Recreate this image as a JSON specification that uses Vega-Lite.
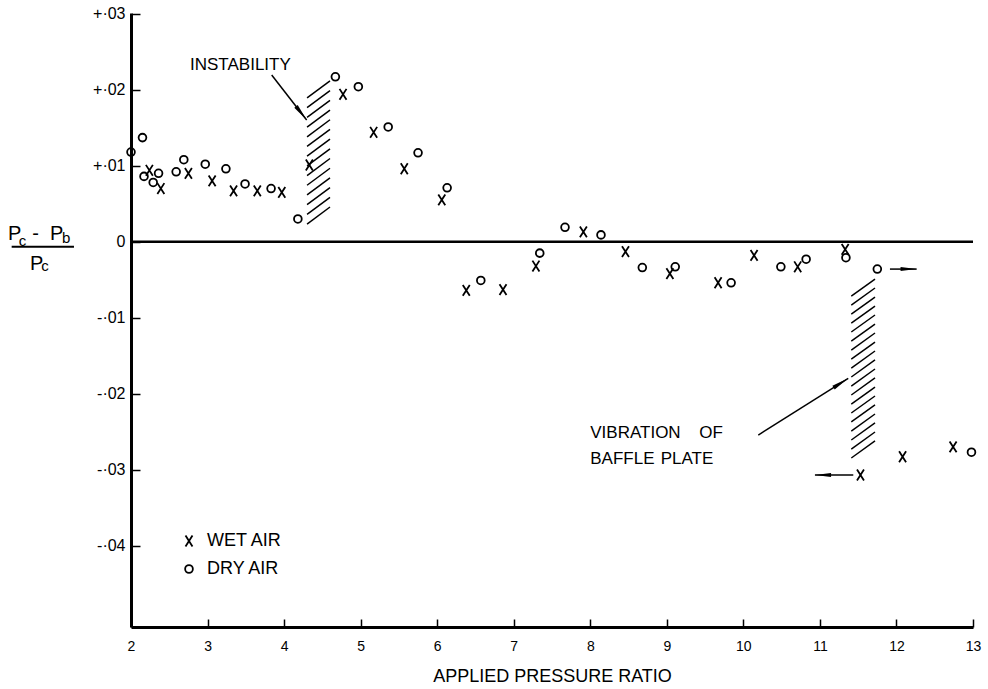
{
  "$schema": "https://vega.github.io/schema/vega-lite/v6.json",
  "width": 842,
  "height": 614,
  "autosize": {"type": "none"},
  "padding": {"left": 131, "top": 13, "right": 15, "bottom": 62},
  "background": "white",
  "config": {
    "view": {"stroke": null},
    "font": "Liberation Sans",
    "axis": {
      "domainColor": "black", "domainWidth": 3, "tickColor": "black", "tickWidth": 1.5,
      "labelColor": "black", "titleColor": "black", "grid": false,
      "labelFont": "Liberation Sans", "titleFont": "Liberation Sans", "titleFontWeight": "normal",
      "labelFlush": false, "labelOverlap": false
    },
    "axisX": {"tickSize": -8, "labelFontSize": 14, "labelPadding": 20, "titleFontSize": 18, "titlePadding": 14},
    "axisY": {"tickSize": -9, "labelFontSize": 16, "labelPadding": 15}
  },
  "datasets": {
    "pts": [
      {"ratio": 2.00, "dp": 0.0118, "air": "DRY AIR"},
      {"ratio": 2.15, "dp": 0.0137, "air": "DRY AIR"},
      {"ratio": 2.17, "dp": 0.0086, "air": "DRY AIR"},
      {"ratio": 2.29, "dp": 0.0078, "air": "DRY AIR"},
      {"ratio": 2.36, "dp": 0.0090, "air": "DRY AIR"},
      {"ratio": 2.59, "dp": 0.0092, "air": "DRY AIR"},
      {"ratio": 2.69, "dp": 0.0108, "air": "DRY AIR"},
      {"ratio": 2.97, "dp": 0.0102, "air": "DRY AIR"},
      {"ratio": 3.24, "dp": 0.0096, "air": "DRY AIR"},
      {"ratio": 3.49, "dp": 0.0076, "air": "DRY AIR"},
      {"ratio": 3.83, "dp": 0.0070, "air": "DRY AIR"},
      {"ratio": 4.18, "dp": 0.0030, "air": "DRY AIR"},
      {"ratio": 4.67, "dp": 0.0217, "air": "DRY AIR"},
      {"ratio": 4.97, "dp": 0.0204, "air": "DRY AIR"},
      {"ratio": 5.36, "dp": 0.0151, "air": "DRY AIR"},
      {"ratio": 5.75, "dp": 0.0117, "air": "DRY AIR"},
      {"ratio": 6.13, "dp": 0.0071, "air": "DRY AIR"},
      {"ratio": 6.57, "dp": -0.0051, "air": "DRY AIR"},
      {"ratio": 7.34, "dp": -0.0015, "air": "DRY AIR"},
      {"ratio": 7.67, "dp": 0.0019, "air": "DRY AIR"},
      {"ratio": 8.14, "dp": 0.0009, "air": "DRY AIR"},
      {"ratio": 8.68, "dp": -0.0034, "air": "DRY AIR"},
      {"ratio": 9.11, "dp": -0.0033, "air": "DRY AIR"},
      {"ratio": 9.84, "dp": -0.0054, "air": "DRY AIR"},
      {"ratio": 10.49, "dp": -0.0033, "air": "DRY AIR"},
      {"ratio": 10.82, "dp": -0.0023, "air": "DRY AIR"},
      {"ratio": 11.34, "dp": -0.0021, "air": "DRY AIR"},
      {"ratio": 11.75, "dp": -0.0036, "air": "DRY AIR"},
      {"ratio": 12.98, "dp": -0.0277, "air": "DRY AIR"},
      {"ratio": 2.24, "dp": 0.0094, "air": "WET AIR"},
      {"ratio": 2.39, "dp": 0.0070, "air": "WET AIR"},
      {"ratio": 2.75, "dp": 0.0090, "air": "WET AIR"},
      {"ratio": 3.06, "dp": 0.0080, "air": "WET AIR"},
      {"ratio": 3.34, "dp": 0.0067, "air": "WET AIR"},
      {"ratio": 3.65, "dp": 0.0067, "air": "WET AIR"},
      {"ratio": 3.97, "dp": 0.0065, "air": "WET AIR"},
      {"ratio": 4.33, "dp": 0.0101, "air": "WET AIR"},
      {"ratio": 4.77, "dp": 0.0194, "air": "WET AIR"},
      {"ratio": 5.17, "dp": 0.0144, "air": "WET AIR"},
      {"ratio": 5.57, "dp": 0.0096, "air": "WET AIR"},
      {"ratio": 6.06, "dp": 0.0055, "air": "WET AIR"},
      {"ratio": 6.38, "dp": -0.0064, "air": "WET AIR"},
      {"ratio": 6.86, "dp": -0.0063, "air": "WET AIR"},
      {"ratio": 7.29, "dp": -0.0032, "air": "WET AIR"},
      {"ratio": 7.91, "dp": 0.0013, "air": "WET AIR"},
      {"ratio": 8.46, "dp": -0.0013, "air": "WET AIR"},
      {"ratio": 9.04, "dp": -0.0042, "air": "WET AIR"},
      {"ratio": 9.67, "dp": -0.0054, "air": "WET AIR"},
      {"ratio": 10.14, "dp": -0.0018, "air": "WET AIR"},
      {"ratio": 10.71, "dp": -0.0033, "air": "WET AIR"},
      {"ratio": 11.33, "dp": -0.0010, "air": "WET AIR"},
      {"ratio": 11.53, "dp": -0.0307, "air": "WET AIR"},
      {"ratio": 12.08, "dp": -0.0283, "air": "WET AIR"},
      {"ratio": 12.74, "dp": -0.0270, "air": "WET AIR"}
    ],
    "zero": [{"v": 0}],
    "hatch": [
      {"x": 4.30, "y": 0.00233, "x2": 4.60, "y2": 0.00457},
      {"x": 4.30, "y": 0.00361, "x2": 4.60, "y2": 0.00585},
      {"x": 4.30, "y": 0.00488, "x2": 4.60, "y2": 0.00712},
      {"x": 4.30, "y": 0.00616, "x2": 4.60, "y2": 0.00840},
      {"x": 4.30, "y": 0.00743, "x2": 4.60, "y2": 0.00967},
      {"x": 4.30, "y": 0.00871, "x2": 4.60, "y2": 0.01095},
      {"x": 4.30, "y": 0.00999, "x2": 4.60, "y2": 0.01223},
      {"x": 4.30, "y": 0.01126, "x2": 4.60, "y2": 0.01350},
      {"x": 4.30, "y": 0.01254, "x2": 4.60, "y2": 0.01478},
      {"x": 4.30, "y": 0.01381, "x2": 4.60, "y2": 0.01605},
      {"x": 4.30, "y": 0.01509, "x2": 4.60, "y2": 0.01733},
      {"x": 4.30, "y": 0.01637, "x2": 4.60, "y2": 0.01861},
      {"x": 4.30, "y": 0.01764, "x2": 4.60, "y2": 0.01988},
      {"x": 4.30, "y": 0.01892, "x2": 4.60, "y2": 0.02116},
      {"x": 11.41, "y": -0.02846, "x2": 11.72, "y2": -0.02622},
      {"x": 11.41, "y": -0.02728, "x2": 11.72, "y2": -0.02504},
      {"x": 11.41, "y": -0.02609, "x2": 11.72, "y2": -0.02385},
      {"x": 11.41, "y": -0.02491, "x2": 11.72, "y2": -0.02267},
      {"x": 11.41, "y": -0.02372, "x2": 11.72, "y2": -0.02148},
      {"x": 11.41, "y": -0.02254, "x2": 11.72, "y2": -0.02030},
      {"x": 11.41, "y": -0.02136, "x2": 11.72, "y2": -0.01912},
      {"x": 11.41, "y": -0.02017, "x2": 11.72, "y2": -0.01793},
      {"x": 11.41, "y": -0.01899, "x2": 11.72, "y2": -0.01675},
      {"x": 11.41, "y": -0.01780, "x2": 11.72, "y2": -0.01556},
      {"x": 11.41, "y": -0.01662, "x2": 11.72, "y2": -0.01438},
      {"x": 11.41, "y": -0.01544, "x2": 11.72, "y2": -0.01320},
      {"x": 11.41, "y": -0.01425, "x2": 11.72, "y2": -0.01201},
      {"x": 11.41, "y": -0.01307, "x2": 11.72, "y2": -0.01083},
      {"x": 11.41, "y": -0.01188, "x2": 11.72, "y2": -0.00964},
      {"x": 11.41, "y": -0.01070, "x2": 11.72, "y2": -0.00846},
      {"x": 11.41, "y": -0.00952, "x2": 11.72, "y2": -0.00728},
      {"x": 11.41, "y": -0.00833, "x2": 11.72, "y2": -0.00609},
      {"x": 11.41, "y": -0.00715, "x2": 11.72, "y2": -0.00491}
    ],
    "arrows": [
      {"id": "inst", "x": 3.838, "y": 0.02194, "x2": 4.295, "y2": 0.01601},
      {"id": "vib", "x": 10.195, "y": -0.02544, "x2": 11.37, "y2": -0.01798},
      {"id": "right", "x": 11.915, "y": -0.0036, "x2": 12.264, "y2": -0.0036},
      {"id": "left", "x": 11.436, "y": -0.0307, "x2": 10.935, "y2": -0.0307}
    ],
    "notes": [
      {"t": "INSTABILITY", "x": 2.771, "y": 0.02325},
      {"t": "VIBRATION", "x": 8.0, "y": -0.02513},
      {"t": "OF", "x": 9.424, "y": -0.02513},
      {"t": "BAFFLE", "x": 8.0, "y": -0.0286},
      {"t": "PLATE", "x": 8.92, "y": -0.0286}
    ],
    "ylab": [
      {"t": "P", "x": 0.481, "y": 0.00022, "k": "big"},
      {"t": "-", "x": 0.752, "y": 0.00022, "k": "big"},
      {"t": "P", "x": 1.029, "y": 0.00022, "k": "big"},
      {"t": "P", "x": 0.767, "y": -0.00372, "k": "big"},
      {"t": "c", "x": 0.583, "y": -0.00060, "k": "sub"},
      {"t": "b", "x": 1.153, "y": -0.00021, "k": "sub"},
      {"t": "c", "x": 0.877, "y": -0.00386, "k": "sub"}
    ],
    "bar": [{"x": 0.441, "x2": 1.255, "y": -0.00066}]
  },
  "layer": [
    {
      "data": {"name": "pts"},
      "mark": {"type": "point", "filled": false, "color": "black", "opacity": 1, "strokeWidth": 1.8, "size": 60},
      "encoding": {
        "x": {
          "field": "ratio", "type": "quantitative", "title": "APPLIED PRESSURE RATIO",
          "scale": {"domain": [2, 13], "nice": false, "zero": false},
          "axis": {"values": [2, 3, 4, 5, 6, 7, 8, 9, 10, 11, 12, 13], "format": "d"}
        },
        "y": {
          "field": "dp", "type": "quantitative", "title": null,
          "scale": {"domain": [-0.0507, 0.0301], "nice": false, "zero": false},
          "axis": {
            "values": [-0.04, -0.03, -0.02, -0.01, 0, 0.01, 0.02, 0.03],
            "labelExpr": "abs(datum.value) < 1e-9 ? '0' : (datum.value > 0 ? '+·' : '-·') + slice(format(abs(datum.value), '.2f'), 2)"
          }
        },
        "shape": {
          "field": "air", "type": "nominal",
          "scale": {"domain": ["WET AIR", "DRY AIR"], "range": ["M-0.9,-1.4L0.9,1.4M0.9,-1.4L-0.9,1.4", "circle"]},
          "legend": {
            "title": null, "orient": "none", "legendX": 49, "legendY": 519,
            "labelFontSize": 18, "labelFont": "Liberation Sans", "labelColor": "black",
            "symbolSize": 60, "symbolStrokeWidth": 1.8, "symbolStrokeColor": "black", "symbolFillColor": "transparent",
            "labelOffset": 9, "rowPadding": 9, "padding": 0
          }
        }
      }
    },
    {
      "data": {"name": "zero"},
      "mark": {"type": "rule", "color": "black", "strokeWidth": 2.5},
      "encoding": {
        "y": {"field": "v", "type": "quantitative", "title": null}
      }
    },
    {
      "data": {"name": "hatch"},
      "mark": {"type": "rule", "color": "black", "strokeWidth": 1.5},
      "encoding": {
        "x": {"field": "x", "type": "quantitative", "title": "APPLIED PRESSURE RATIO"},
        "y": {"field": "y", "type": "quantitative", "title": null},
        "x2": {"field": "x2"},
        "y2": {"field": "y2"}
      }
    },
    {
      "data": {"name": "arrows"},
      "mark": {"type": "rule", "color": "black", "strokeWidth": 1.5},
      "encoding": {
        "x": {"field": "x", "type": "quantitative", "title": "APPLIED PRESSURE RATIO"},
        "y": {"field": "y", "type": "quantitative", "title": null},
        "x2": {"field": "x2"},
        "y2": {"field": "y2"}
      }
    },
    {
      "data": {"name": "arrows"},
      "transform": [{"filter": "datum.id == 'inst'"}],
      "mark": {"type": "point", "shape": "M0,0L-0.25,2L0.25,2Z", "filled": true, "color": "black", "opacity": 1, "size": 300, "angle": 142},
      "encoding": {
        "x": {"field": "x2", "type": "quantitative", "title": "APPLIED PRESSURE RATIO"},
        "y": {"field": "y2", "type": "quantitative", "title": null}
      }
    },
    {
      "data": {"name": "arrows"},
      "transform": [{"filter": "datum.id == 'vib'"}],
      "mark": {"type": "point", "shape": "M0,0L-0.25,2L0.25,2Z", "filled": true, "color": "black", "opacity": 1, "size": 300, "angle": 58},
      "encoding": {
        "x": {"field": "x2", "type": "quantitative", "title": "APPLIED PRESSURE RATIO"},
        "y": {"field": "y2", "type": "quantitative", "title": null}
      }
    },
    {
      "data": {"name": "arrows"},
      "transform": [{"filter": "datum.id == 'right'"}],
      "mark": {"type": "point", "shape": "M0,0L-0.25,2L0.25,2Z", "filled": true, "color": "black", "opacity": 1, "size": 260, "angle": 90},
      "encoding": {
        "x": {"field": "x2", "type": "quantitative", "title": "APPLIED PRESSURE RATIO"},
        "y": {"field": "y2", "type": "quantitative", "title": null}
      }
    },
    {
      "data": {"name": "arrows"},
      "transform": [{"filter": "datum.id == 'left'"}],
      "mark": {"type": "point", "shape": "M0,0L-0.25,2L0.25,2Z", "filled": true, "color": "black", "opacity": 1, "size": 260, "angle": 270},
      "encoding": {
        "x": {"field": "x2", "type": "quantitative", "title": "APPLIED PRESSURE RATIO"},
        "y": {"field": "y2", "type": "quantitative", "title": null}
      }
    },
    {
      "data": {"name": "notes"},
      "mark": {"type": "text", "align": "left", "baseline": "middle", "fontSize": 17, "font": "Liberation Sans", "color": "black"},
      "encoding": {
        "x": {"field": "x", "type": "quantitative", "title": "APPLIED PRESSURE RATIO"},
        "y": {"field": "y", "type": "quantitative", "title": null},
        "text": {"field": "t"}
      }
    },
    {
      "data": {"name": "ylab"},
      "transform": [{"filter": "datum.k == 'big'"}],
      "mark": {"type": "text", "align": "center", "baseline": "alphabetic", "fontSize": 20, "font": "Liberation Sans", "color": "black"},
      "encoding": {
        "x": {"field": "x", "type": "quantitative", "title": "APPLIED PRESSURE RATIO"},
        "y": {"field": "y", "type": "quantitative", "title": null},
        "text": {"field": "t"}
      }
    },
    {
      "data": {"name": "ylab"},
      "transform": [{"filter": "datum.k == 'sub'"}],
      "mark": {"type": "text", "align": "center", "baseline": "alphabetic", "fontSize": 15, "font": "Liberation Sans", "color": "black"},
      "encoding": {
        "x": {"field": "x", "type": "quantitative", "title": "APPLIED PRESSURE RATIO"},
        "y": {"field": "y", "type": "quantitative", "title": null},
        "text": {"field": "t"}
      }
    },
    {
      "data": {"name": "bar"},
      "mark": {"type": "rule", "color": "black", "strokeWidth": 2},
      "encoding": {
        "x": {"field": "x", "type": "quantitative", "title": "APPLIED PRESSURE RATIO"},
        "x2": {"field": "x2"},
        "y": {"field": "y", "type": "quantitative", "title": null}
      }
    }
  ]
}
